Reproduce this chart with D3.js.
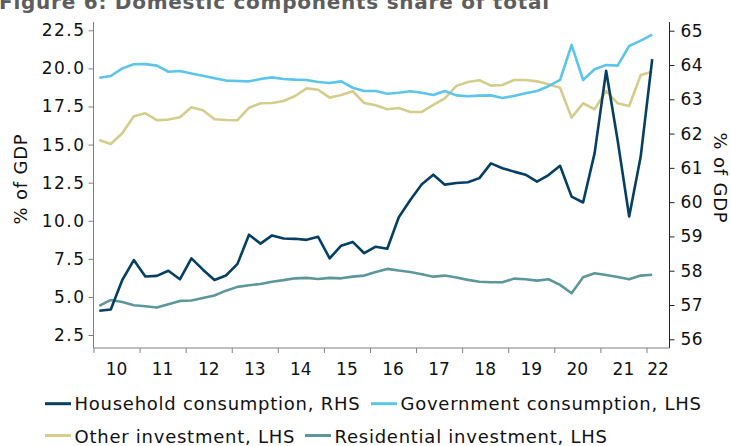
<!DOCTYPE html>
<html>
<head>
<meta charset="utf-8">
<script src="https://cdn.jsdelivr.net/npm/d3@7"></script>
<style>
  html, body { margin: 0; padding: 0; background: #fff; overflow: hidden; }
  svg { display: block; font-family: "DejaVu Sans", Verdana, sans-serif; }
</style>
</head>
<body>
<svg id="chart" width="731" height="446"></svg>
<script>
// ---- Data (quarterly, 2010Q1 .. 2022Q1) ----
const yearLabels = ["10","11","12","13","14","15","16","17","18","19","20","21","22"];
const leftTicks = [2.5, 5.0, 7.5, 10.0, 12.5, 15.0, 17.5, 20.0, 22.5];
const rightTicks = [56, 57, 58, 59, 60, 61, 62, 63, 64, 65];

const household = [56.83,56.87,57.73,58.31,57.83,57.85,58.0,57.75,58.36,58.03,57.73,57.86,58.2,59.05,58.79,59.03,58.94,
  58.93,58.9,58.99,58.36,58.73,58.84,58.51,58.7,58.64,59.56,60.06,60.52,60.8,60.51,60.56,60.58,
  60.7,61.13,60.99,60.89,60.8,60.6,60.79,61.06,60.16,59.99,61.43,63.83,61.8,59.58,61.33,64.17];
const government = [19.39,19.5,20.0,20.27,20.28,20.18,19.78,19.83,19.66,19.52,19.35,19.2,19.17,19.15,19.3,19.41,19.3,
  19.26,19.24,19.11,19.04,19.15,18.73,18.52,18.52,18.34,18.4,18.5,18.4,18.25,18.52,18.23,18.17,
  18.21,18.23,18.06,18.19,18.37,18.52,18.83,19.24,21.54,19.24,19.94,20.22,20.18,21.47,21.82,22.22];
const otherInv = [15.3,15.04,15.74,16.86,17.05,16.6,16.64,16.79,17.45,17.25,16.66,16.61,16.6,17.42,17.71,17.73,17.86,
  18.19,18.69,18.6,18.08,18.25,18.5,17.73,17.58,17.32,17.4,17.14,17.14,17.6,18.04,18.85,19.11,
  19.22,18.87,18.91,19.24,19.24,19.15,18.96,18.73,16.77,17.71,17.32,18.52,17.71,17.53,19.57,19.78];
const residential = [4.41,4.8,4.67,4.45,4.39,4.3,4.52,4.74,4.76,4.93,5.09,5.41,5.66,5.77,5.85,6.0,6.1,
  6.22,6.25,6.18,6.25,6.22,6.33,6.4,6.64,6.84,6.73,6.64,6.49,6.33,6.4,6.27,6.12,
  6.0,5.96,5.96,6.2,6.16,6.07,6.16,5.79,5.24,6.29,6.55,6.44,6.31,6.16,6.4,6.46];

const seriesNames = ["Household consumption, RHS", "Government consumption, LHS", "Other investment, LHS", "Residential investment, LHS"];
const colors = ["#053f63", "#5bc5ea", "#d4cd8c", "#5d979c"];

// ---- Layout ----
const svg = d3.select("#chart");
const plot = { left: 93.5, right: 669.5, top: 22, bottom: 348 };

const x = d3.scaleLinear().domain([0, 50]).range([plot.left, plot.right]);
const yL = d3.scaleLinear().domain([1.647, 23.045]).range([plot.bottom, plot.top]);
const yR = d3.scaleLinear().domain([55.746, 65.254]).range([plot.bottom, plot.top]);

// Title (cropped at top, as in the reference)
svg.append("text")
  .attr("x", -1).attr("y", 9)
  .attr("font-size", 20).attr("font-weight", "bold").attr("fill", "#5d5d5d")
  .attr("letter-spacing", 0.75)
  .text("Figure 6: Domestic components share of total");

// Left axis
const gL = svg.append("g").attr("transform", `translate(${plot.left},0)`)
  .call(d3.axisLeft(yL).tickValues(leftTicks).tickFormat(d3.format(".1f")).tickSize(5).tickPadding(3));
gL.select(".domain").attr("stroke", "#808080").attr("d", `M0,${plot.top}V${plot.bottom}`);
gL.selectAll(".tick line").attr("stroke", "#808080");
gL.selectAll(".tick text").attr("font-size", 17).attr("fill", "#111")
  .attr("font-family", "DejaVu Sans").attr("letter-spacing", 1.5);

// Right axis
const gR = svg.append("g").attr("transform", `translate(${plot.right},0)`)
  .call(d3.axisRight(yR).tickValues(rightTicks).tickFormat(d3.format("d")).tickSize(5).tickPadding(6));
gR.select(".domain").attr("stroke", "#222").attr("d", `M0,${plot.top}V${plot.bottom}`);
gR.selectAll(".tick line").attr("stroke", "#222");
gR.selectAll(".tick text").attr("font-size", 17).attr("fill", "#111").attr("font-family", "DejaVu Sans")
  .attr("letter-spacing", 0.5);

// Bottom axis: ticks at year starts, labels centred in each year
const yearStarts = yearLabels.map((d, i) => i * 4);
const gB = svg.append("g").attr("transform", `translate(0,${plot.bottom})`)
  .call(d3.axisBottom(x).tickValues(yearStarts).tickFormat("").tickSize(5));
gB.select(".domain").attr("stroke", "#808080").attr("d", `M${plot.left},0H${plot.right}`);
gB.selectAll(".tick line").attr("stroke", "#808080");
svg.append("g").selectAll("text").data(yearLabels).join("text")
  .attr("x", (d, i) => x(Math.min(i * 4 + 2, (i * 4 + 50) / 2)))
  .attr("y", 374.5)
  .attr("text-anchor", "middle")
  .attr("font-size", 17).attr("fill", "#111")
  .text(d => d);

// Axis titles
svg.append("text")
  .attr("transform", "translate(27,179) rotate(-90)")
  .attr("text-anchor", "middle").attr("font-size", 18).attr("fill", "#111")
  .attr("letter-spacing", 0.8)
  .text("% of GDP");
svg.append("text")
  .attr("transform", "translate(714,178) rotate(90)")
  .attr("text-anchor", "middle").attr("font-size", 18).attr("fill", "#111")
  .attr("letter-spacing", 0.8)
  .text("% of GDP");

// Lines
const data = [
  { values: household, y: yR },
  { values: government, y: yL },
  { values: otherInv, y: yL },
  { values: residential, y: yL }
];
const drawOrder = [3, 2, 1, 0];
drawOrder.forEach(k => {
  const s = data[k];
  const line = d3.line().x((d, i) => x(i + 0.5)).y(d => s.y(d));
  svg.append("path")
    .datum(s.values)
    .attr("d", line)
    .attr("fill", "none")
    .attr("stroke", colors[k])
    .attr("stroke-width", 2.6)
    .attr("stroke-linejoin", "round");
});

// Legend
const legendItems = [
  { k: 0, lx: 45, ty: 409.5, ly: 403.7 },
  { k: 1, lx: 371, ty: 409.5, ly: 403.7 },
  { k: 2, lx: 45, ty: 443, ly: 435.5 },
  { k: 3, lx: 305, ty: 443, ly: 435.5 }
];
const lg = svg.append("g");
legendItems.forEach(it => {
  lg.append("line")
    .attr("x1", it.lx).attr("x2", it.lx + 26)
    .attr("y1", it.ly).attr("y2", it.ly)
    .attr("stroke", colors[it.k]).attr("stroke-width", 3);
  lg.append("text")
    .attr("x", it.lx + 29.5).attr("y", it.ty)
    .attr("font-size", 18).attr("fill", "#111")
    .attr("letter-spacing", 0.75)
    .text(seriesNames[it.k]);
});
</script>
</body>
</html>
